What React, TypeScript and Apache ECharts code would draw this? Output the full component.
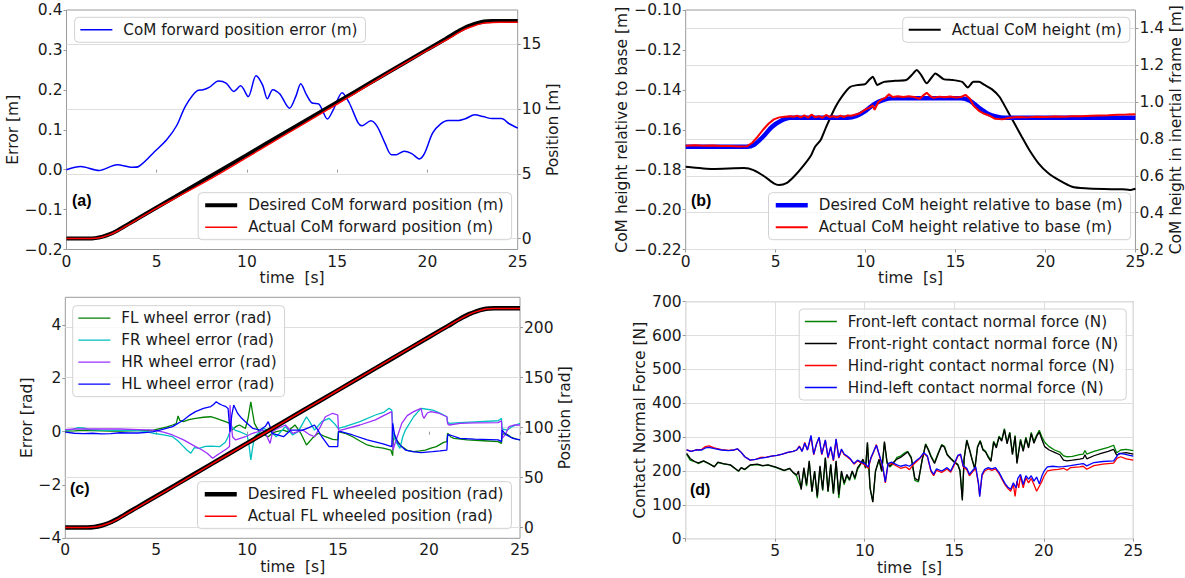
import React, { useEffect, useRef } from "react";
import * as echarts from "echarts";

// ---------- shared ----------
const timeTicks = [0, 5, 10, 15, 20, 25];

// ---------- (a) ----------
const errTicksA = [-0.2, -0.1, 0.0, 0.1, 0.2, 0.3, 0.4];
const posTicksA = [0, 5, 10, 15];
const comErrA = [[0,0.0],[0.78,0.008],[1.8,-0.002],[2.8,0.0125],[3.65,0.006],[4.0,0.008],[4.9,0.046],[5.55,0.075],[6.1,0.11],[6.6,0.16],[7.25,0.198],[7.57,0.2],[7.9,0.206],[8.42,0.222],[8.84,0.217],[9.27,0.196],[9.65,0.21],[10.07,0.183],[10.5,0.235],[10.86,0.2125],[11.13,0.1775],[11.43,0.2],[11.81,0.19],[12.36,0.154],[12.7,0.183],[12.98,0.215],[13.3,0.1875],[13.61,0.167],[13.97,0.165],[14.46,0.127],[14.78,0.15],[15.27,0.193],[15.67,0.167],[16.16,0.117],[16.37,0.11],[16.86,0.1225],[17.22,0.108],[17.64,0.067],[18.0,0.0375],[18.28,0.0375],[18.7,0.046],[19.13,0.04],[19.55,0.027],[19.83,0.04],[20.29,0.092],[20.72,0.114],[21.14,0.123],[21.67,0.123],[22.1,0.1275],[22.62,0.1375],[23.09,0.133],[23.58,0.128],[24.1,0.128],[24.53,0.115],[25.0,0.104]];
const posDesiredA = [[0,0],[1.2,0],[1.6,0.038],[2.0,0.153],[2.4,0.344],[2.8,0.612],[3.2,0.935],[3.6,1.26],[4,1.585],[5,2.4],[6,3.21],[8,4.84],[10,6.46],[12,8.09],[14,9.72],[16,11.34],[18,12.97],[20,14.6],[21,15.41],[21.8,16.07],[22.2,16.36],[22.6,16.57],[23.0,16.72],[23.3,16.78],[23.6,16.8],[25,16.8]];
const posActualA = [[0,0],[1.2,0],[1.6,0.03],[2.0,0.13],[2.4,0.31],[2.8,0.57],[3.2,0.88],[3.6,1.2],[4,1.54],[5,2.355],[6,3.11],[8,4.63],[10,6.27],[12,7.92],[14,9.56],[16,11.22],[18,12.93],[20,14.53],[21,15.29],[21.8,15.945],[22.2,16.23],[22.6,16.43],[23.0,16.59],[23.3,16.65],[23.6,16.68],[24,16.7],[25,16.7]];

// ---------- (b) ----------
const relTicksB = [-0.22, -0.2, -0.18, -0.16, -0.14, -0.12, -0.1];
const inTicksB = [0.2, 0.4, 0.6, 0.8, 1.0, 1.2, 1.4];
const heightActualB = [[0,0.649],[1.5,0.637],[3.25,0.642],[3.77,0.631],[4.4,0.595],[4.9,0.559],[5.18,0.55],[5.63,0.562],[6.05,0.599],[6.57,0.658],[6.98,0.713],[7.19,0.758],[7.5,0.794],[7.81,0.866],[8.33,0.975],[8.74,1.038],[9.15,1.083],[9.57,1.093],[9.98,1.098],[10.19,1.12],[10.4,1.138],[10.65,1.093],[11.02,1.11],[11.64,1.116],[12.26,1.12],[12.57,1.147],[12.84,1.174],[13.09,1.147],[13.4,1.102],[13.88,1.156],[14.33,1.125],[14.85,1.12],[15.37,1.11],[15.68,1.08],[15.99,1.11],[16.3,1.11],[16.61,1.093],[17.03,1.069],[17.44,1.029],[17.86,0.957],[18.27,0.885],[18.68,0.812],[19.1,0.74],[19.61,0.668],[20.13,0.617],[20.75,0.577],[21.48,0.541],[22.2,0.532],[23.24,0.528],[24.28,0.527],[24.69,0.523],[25,0.53]];
const relDesiredB = [[0,-0.1685],[3.4,-0.1685],[3.8,-0.1675],[4.3,-0.1635],[4.8,-0.1585],[5.3,-0.1555],[5.8,-0.154],[9.0,-0.154],[9.5,-0.153],[10,-0.1505],[10.5,-0.147],[11,-0.145],[11.5,-0.1442],[15.3,-0.1442],[15.8,-0.1455],[16.3,-0.149],[16.8,-0.152],[17.3,-0.1535],[17.7,-0.154],[25,-0.154]];
const relActualB = [[0,-0.168],[0.5,-0.1678],[1,-0.168],[1.5,-0.1679],[2,-0.1681],[2.5,-0.1682],[3,-0.1684],[3.4,-0.1683],[3.7,-0.1665],[4.0,-0.1635],[4.3,-0.16],[4.6,-0.157],[4.9,-0.1548],[5.2,-0.1538],[5.5,-0.1535],[5.8,-0.1532],[6.0,-0.1535],[6.2,-0.153],[6.4,-0.1538],[6.6,-0.1528],[6.8,-0.154],[7.0,-0.1524],[7.2,-0.1538],[7.4,-0.1532],[7.6,-0.154],[7.8,-0.1526],[8.0,-0.1536],[8.2,-0.1532],[8.4,-0.1538],[8.6,-0.153],[8.8,-0.1536],[9.0,-0.1528],[9.2,-0.153],[9.4,-0.1525],[9.6,-0.152],[9.8,-0.151],[10.0,-0.1498],[10.2,-0.149],[10.4,-0.1478],[10.5,-0.15],[10.7,-0.1462],[10.9,-0.1448],[11.1,-0.144],[11.3,-0.1422],[11.5,-0.1436],[11.8,-0.1432],[12.1,-0.1436],[12.4,-0.1432],[12.7,-0.1436],[13.0,-0.1445],[13.2,-0.1428],[13.4,-0.1415],[13.6,-0.1432],[13.8,-0.144],[14.1,-0.1434],[14.4,-0.1437],[14.7,-0.1433],[15.0,-0.1438],[15.3,-0.1436],[15.55,-0.1425],[15.8,-0.1445],[16.0,-0.148],[16.3,-0.1505],[16.6,-0.152],[16.9,-0.153],[17.2,-0.1545],[17.6,-0.1548],[18,-0.154],[18.5,-0.1536],[19,-0.1538],[19.5,-0.1535],[20,-0.1536],[20.5,-0.1533],[21,-0.1535],[21.5,-0.1532],[22,-0.1532],[22.5,-0.153],[23,-0.1528],[23.5,-0.1527],[24,-0.1525],[24.5,-0.1524],[25,-0.1522]];

// ---------- (c) ----------
const errTicksC = [-4, -2, 0, 2, 4];
const posTicksC = [0, 50, 100, 150, 200];
const flErrC = [[0,0.02],[0.5,0.03],[1,0.05],[1.5,0.04],[2,0.03],[2.5,0.02],[3,0.02],[3.5,0.03],[4,0.04],[4.5,0.05],[4.84,0.06],[5.26,0.12],[5.6,0.18],[5.9,0.25],[6.1,0.3],[6.2,0.59],[6.3,0.42],[6.5,0.375],[6.8,0.45],[7.16,0.5],[7.6,0.54],[8,0.56],[8.3,0.5],[8.53,0.44],[8.95,0.34],[9.05,0.3],[9.16,0.06],[9.4,0.2],[9.58,0.25],[9.9,0.12],[10.05,0.5],[10.2,1.12],[10.3,0.7],[10.4,0.31],[10.7,-0.06],[11.16,-0.19],[11.4,-0.05],[11.6,0],[12,0.06],[12.2,0],[12.63,0.25],[12.95,-0.06],[13.26,-0.5],[13.58,-0.25],[13.9,-0.06],[14.3,-0.19],[14.7,-0.29],[14.98,-0.31],[15.02,0],[15.37,-0.06],[15.8,-0.19],[16.2,-0.35],[16.6,-0.5],[17.0,-0.57],[17.47,-0.62],[17.9,-0.69],[18.0,-0.9],[18.05,-0.06],[18.2,-0.3],[18.5,-0.56],[18.8,-0.7],[19.15,-0.75],[19.5,-0.72],[19.8,-0.69],[20.1,-0.62],[20.4,-0.56],[20.8,-0.4],[20.98,-0.375],[21.02,-0.06],[21.2,-0.2],[21.37,-0.25],[22.1,-0.31],[23,-0.34],[23.8,-0.375],[23.98,-0.44],[24.02,-0.1],[24.2,-0.06],[24.5,-0.2],[24.8,-0.28],[25,-0.31]];
const frErrC = [[0,0.05],[0.4,0.08],[0.7,0.15],[1.0,0.14],[1.3,0.08],[2,0.06],[3,0.05],[4,0.04],[4.5,0.0],[4.84,-0.06],[5.4,-0.12],[5.9,-0.19],[6.2,-0.35],[6.5,-0.56],[6.7,-0.7],[6.9,-0.81],[7.1,-0.6],[7.36,-0.625],[7.7,-0.55],[8,-0.54],[8.5,-0.56],[8.8,-0.4],[8.95,-0.19],[9.16,0.19],[9.35,0.05],[9.58,0],[10,-0.125],[10.1,-0.5],[10.2,-1.06],[10.3,-0.6],[10.4,-0.19],[10.9,0.125],[11.3,0],[11.6,-0.19],[12.1,0.19],[12.5,-0.125],[12.8,0.0],[13.05,0.3],[13.26,0.56],[13.5,0.3],[13.7,0.06],[14.1,0.375],[14.5,0.5],[14.8,0.3],[15,0.125],[15.37,0.19],[16.2,0.375],[17.05,0.625],[17.5,0.72],[17.8,0.875],[17.95,0.81],[18.05,-0.19],[18.2,-0.4],[18.4,-0.625],[18.55,-0.2],[18.7,0.06],[19.15,0.56],[19.56,0.875],[19.8,0.85],[20.2,0.81],[20.6,0.7],[20.98,0.56],[21.02,0.35],[21.1,0.31],[21.7,0.34],[22.5,0.37],[23.8,0.41],[23.98,0.5],[24.02,0.1],[24.3,0.06],[24.6,0.2],[25,0.31]];
const hrErrC = [[0,0.08],[0.5,0.1],[1,0.1],[2,0.1],[3,0.1],[4,0.08],[4.5,0.07],[4.84,0.06],[5.4,-0.02],[5.9,-0.125],[6.5,-0.31],[7.16,-0.56],[7.5,-0.68],[7.8,-0.81],[8.1,-1.0],[8.3,-0.9],[8.5,-0.81],[8.84,-0.66],[9.03,-0.56],[9.06,1.0],[9.1,0.4],[9.2,-0.2],[9.37,-0.31],[9.9,-0.19],[10.3,-0.06],[10.9,0.06],[11.1,-0.2],[11.26,-0.44],[11.4,0.0],[11.6,0.09],[12.1,0.25],[12.5,-0.06],[13.05,0.06],[13.4,-0.1],[13.7,-0.19],[14.0,0.15],[14.3,0.56],[14.7,0.69],[14.98,0.625],[15.02,0.06],[15.16,0.06],[16.2,0.25],[17.05,0.44],[17.5,0.6],[17.95,0.75],[18.02,-0.69],[18.1,-0.5],[18.5,0.31],[18.8,0.6],[19.15,0.75],[19.56,0.875],[19.65,0.6],[19.72,0.5],[19.9,0.7],[20.1,0.75],[20.5,0.7],[20.98,0.56],[21.02,0.3],[21.1,0.25],[21.7,0.31],[22.5,0.33],[23.8,0.34],[23.98,0.41],[24.02,-0.25],[24.2,-0.1],[24.4,0.19],[24.7,0.25],[25,0.25]];
const hlErrC = [[0,-0.02],[0.5,-0.06],[1,-0.07],[1.5,-0.06],[2,-0.08],[2.5,-0.07],[3,-0.04],[3.5,-0.05],[4,-0.05],[4.5,-0.03],[4.84,0],[5.3,0.08],[5.9,0.19],[6.5,0.44],[6.8,0.6],[7.16,0.75],[7.6,0.87],[8,0.94],[8.15,1.02],[8.3,1.12],[8.45,1.05],[8.6,1.0],[8.8,0.95],[8.95,0.87],[9.02,0.3],[9.06,0],[9.15,0.6],[9.26,1.0],[9.47,0.69],[9.7,0.5],[9.9,0.375],[10.3,0.125],[10.7,0.06],[11.0,0.2],[11.16,0.375],[11.3,0.1],[11.37,-0.06],[12,-0.19],[12.4,0.06],[13.05,0.06],[13.4,0.15],[13.7,0.25],[13.9,0.05],[14.1,-0.19],[14.5,-0.56],[14.98,-0.56],[15.02,0],[15.16,0],[15.8,-0.125],[16.6,-0.31],[17.47,-0.46],[17.95,-0.56],[18.0,0.31],[18.1,-0.1],[18.3,-0.44],[18.7,-0.69],[19.1,-0.75],[19.56,-0.79],[20.2,-0.75],[20.6,-0.72],[20.98,-0.69],[21.02,-0.125],[21.16,-0.125],[21.7,-0.25],[22.5,-0.28],[23.8,-0.31],[23.98,-0.375],[24.02,0.06],[24.2,-0.1],[24.6,-0.25],[25,-0.31]];
const wheelDesiredC = [[0,0],[1.2,0],[1.6,0.5],[2.0,2.0],[2.4,4.5],[2.8,8.0],[3.2,12.2],[3.6,16.5],[4,20.7],[5,31.3],[6,41.9],[8,63.2],[10,84.4],[12,105.7],[14,126.9],[16,148.1],[18,169.4],[20,190.7],[21,201.3],[21.8,209.9],[22.2,213.6],[22.6,216.4],[23.0,218.4],[23.3,219.2],[23.6,219.4],[25,219.4]];
const wheelActualC = [[0,0],[1.2,0],[1.6,0.4],[2,1.8],[2.4,4.2],[2.8,7.6],[3.2,11.8],[3.6,16.1],[4,20.3],[5,30.9],[6,41.5],[8,62.9],[10,84.2],[12,105.5],[14,126.8],[16,148.0],[18,169.5],[20,190.6],[21,201.1],[21.8,209.6],[22.2,213.3],[22.6,216.1],[23,218.1],[23.3,218.9],[23.6,219.1],[25,219.2]];

// ---------- (d) ----------
const forceTicksD = [0, 100, 200, 300, 400, 500, 600, 700];
const flForceD = [[0.05,250],[0.25,232],[0.5,228],[0.7,222],[1.0,229],[1.3,221],[1.6,213],[1.8,225],[2.1,221],[2.5,217],[2.8,205],[2.95,199],[3.1,209],[3.3,204],[3.6,217],[4.0,219],[4.3,215],[4.6,217],[5.0,211],[5.3,205],[5.5,201],[5.8,207],[6.0,195],[6.2,185],[6.3,168],[6.45,150],[6.6,205],[6.75,155],[6.9,228],[7.05,138],[7.2,198],[7.35,120],[7.5,212],[7.65,142],[7.8,238],[7.95,138],[8.1,218],[8.25,132],[8.4,228],[8.55,120],[8.7,195],[8.85,160],[9.0,185],[9.15,172],[9.3,198],[9.45,175],[9.6,205],[9.75,218],[9.9,232],[10.05,208],[10.15,282],[10.3,148],[10.45,110],[10.6,198],[10.8,232],[10.95,198],[11.1,284],[11.25,222],[11.4,212],[11.6,222],[11.8,240],[12.0,244],[12.2,252],[12.4,258],[12.6,240],[12.8,172],[13.0,168],[13.2,232],[13.4,280],[13.55,265],[13.7,245],[13.9,225],[14.1,253],[14.3,278],[14.45,273],[14.6,250],[14.8,238],[15.0,228],[15.2,220],[15.32,202],[15.45,118],[15.55,238],[15.7,292],[15.85,265],[16.0,235],[16.15,208],[16.3,272],[16.45,290],[16.6,265],[16.75,258],[16.9,243],[17.05,232],[17.2,288],[17.35,272],[17.5,303],[17.65,292],[17.8,325],[17.95,284],[18.1,315],[18.25,252],[18.4,305],[18.5,226],[18.7,294],[18.85,262],[19.0,300],[19.15,272],[19.3,314],[19.45,287],[19.6,306],[19.75,320],[19.9,300],[20.05,285],[20.3,272],[20.6,262],[20.9,256],[21.1,245],[21.3,242],[21.6,243],[22.0,248],[22.2,250],[22.3,260],[22.4,250],[22.8,258],[23.2,264],[23.6,270],[23.9,276],[24.07,254],[24.3,262],[24.6,264],[25,260]];
const frForceD = [[0.05,252],[0.25,237],[0.5,228],[0.7,224],[1.0,230],[1.3,222],[1.6,212],[1.8,226],[2.1,222],[2.5,218],[2.8,206],[2.95,200],[3.1,210],[3.3,205],[3.6,218],[4.0,220],[4.3,216],[4.6,218],[5.0,212],[5.3,206],[5.5,202],[5.8,208],[6.0,196],[6.2,188],[6.3,200],[6.45,145],[6.6,210],[6.75,160],[6.9,230],[7.05,140],[7.2,200],[7.35,125],[7.5,215],[7.65,145],[7.8,240],[7.95,140],[8.1,220],[8.25,135],[8.4,230],[8.55,130],[8.7,200],[8.85,165],[9.0,190],[9.15,175],[9.3,200],[9.45,180],[9.6,210],[9.75,220],[9.9,235],[10.05,210],[10.15,285],[10.3,150],[10.45,108],[10.6,200],[10.8,235],[10.95,200],[11.1,287],[11.25,225],[11.4,215],[11.6,225],[11.8,235],[12.0,240],[12.2,248],[12.4,256],[12.6,238],[12.8,178],[13.0,172],[13.2,230],[13.4,278],[13.55,262],[13.7,242],[13.9,222],[14.1,250],[14.3,276],[14.45,270],[14.6,248],[14.8,236],[15.0,226],[15.2,218],[15.32,200],[15.45,113],[15.55,235],[15.7,290],[15.85,262],[16.0,232],[16.15,205],[16.3,270],[16.45,288],[16.6,262],[16.75,256],[16.9,240],[17.05,228],[17.2,285],[17.35,268],[17.5,300],[17.65,288],[17.8,322],[17.95,280],[18.1,312],[18.25,248],[18.4,302],[18.5,222],[18.7,290],[18.85,258],[19.0,296],[19.15,268],[19.3,310],[19.45,282],[19.6,302],[19.75,315],[19.9,292],[20.05,272],[20.3,262],[20.6,255],[20.9,248],[21.1,232],[21.3,230],[21.6,232],[22.0,235],[22.2,237],[22.3,248],[22.4,236],[22.8,245],[23.2,252],[23.6,258],[23.9,264],[24.07,247],[24.3,252],[24.6,254],[25,250]];
const hrForceD = [[0.05,262],[0.3,258],[0.6,262],[0.9,264],[1.1,272],[1.3,274],[1.6,268],[2.0,263],[2.4,261],[2.7,262],[2.9,265],[3.1,255],[3.3,242],[3.6,232],[3.9,234],[4.2,240],[4.5,241],[4.8,244],[5.1,246],[5.4,250],[5.7,255],[6.0,258],[6.2,262],[6.35,274],[6.5,258],[6.65,284],[6.8,262],[7.0,300],[7.15,248],[7.3,280],[7.45,298],[7.6,248],[7.8,290],[7.95,238],[8.1,270],[8.25,230],[8.4,293],[8.55,238],[8.7,262],[8.85,248],[9.0,243],[9.2,234],[9.4,220],[9.6,230],[9.8,224],[10.0,218],[10.2,208],[10.35,238],[10.5,256],[10.65,278],[10.8,248],[11.0,212],[11.15,165],[11.3,220],[11.5,222],[11.8,214],[12.0,208],[12.3,212],[12.5,204],[12.7,218],[12.9,228],[13.1,238],[13.3,252],[13.5,242],[13.7,198],[13.85,186],[14.0,202],[14.3,196],[14.6,206],[14.8,196],[15.0,218],[15.2,244],[15.35,248],[15.5,212],[15.7,204],[15.85,186],[16.0,196],[16.2,208],[16.35,162],[16.42,128],[16.55,186],[16.7,200],[16.9,206],[17.1,202],[17.3,206],[17.5,192],[17.7,172],[17.85,158],[18.0,148],[18.15,140],[18.3,160],[18.4,125],[18.5,170],[18.6,150],[18.7,185],[18.85,150],[19.0,180],[19.15,165],[19.3,178],[19.45,160],[19.6,140],[19.75,155],[19.9,170],[20.0,183],[20.2,200],[20.5,203],[20.8,205],[21.1,208],[21.3,202],[21.5,210],[22.0,212],[22.2,214],[22.4,205],[22.8,216],[23.3,220],[23.9,223],[24.1,238],[24.3,242],[24.6,236],[25,232]];
const hlForceD = [[0.05,262],[0.3,258],[0.6,262],[0.9,262],[1.1,268],[1.3,270],[1.6,266],[2.0,262],[2.4,260],[2.7,262],[2.9,265],[3.1,255],[3.3,242],[3.6,232],[3.9,234],[4.2,238],[4.5,240],[4.8,244],[5.1,246],[5.4,250],[5.7,255],[6.0,258],[6.2,262],[6.35,272],[6.5,258],[6.65,282],[6.8,262],[7.0,305],[7.15,250],[7.3,278],[7.45,300],[7.6,250],[7.8,292],[7.95,240],[8.1,272],[8.25,232],[8.4,295],[8.55,240],[8.7,265],[8.85,250],[9.0,245],[9.2,236],[9.4,222],[9.6,232],[9.8,226],[10.0,222],[10.2,212],[10.35,240],[10.5,258],[10.65,276],[10.8,250],[11.0,215],[11.15,168],[11.3,222],[11.5,226],[11.8,218],[12.0,214],[12.3,218],[12.5,214],[12.7,222],[12.9,232],[13.1,240],[13.3,254],[13.5,244],[13.7,202],[13.85,190],[14.0,206],[14.3,200],[14.6,210],[14.8,200],[15.0,222],[15.2,246],[15.35,250],[15.5,215],[15.7,208],[15.85,190],[16.0,200],[16.2,212],[16.35,165],[16.42,124],[16.55,190],[16.7,205],[16.9,210],[17.1,206],[17.3,210],[17.5,196],[17.7,176],[17.85,162],[18.0,152],[18.15,146],[18.3,165],[18.45,150],[18.55,178],[18.7,190],[18.85,160],[19.0,186],[19.15,176],[19.3,186],[19.45,170],[19.6,182],[19.75,162],[19.9,186],[20.0,198],[20.2,212],[20.5,214],[20.8,212],[21.1,213],[21.5,216],[22.0,220],[22.2,222],[22.4,215],[22.8,225],[23.3,228],[23.9,230],[24.2,252],[24.5,250],[24.8,246],[25,244]];

// ---------- styling ----------
const FONT = '"DejaVu Sans", sans-serif';
const FS = 15.5;
const LFS = 15.2;
const TXT = "#1a1a1a";
const GRIDC = "#dedede";
const BORDER = "#9a9a9a";
const uminus = (s: string) => s.replace("-", "\u2212");

function xAx(gridIndex: number, opts: any = {}) {
  return {
    type: "value", gridIndex, min: 0, max: 25, interval: 5,
    axisLine: { show: false },
    axisTick: { show: true, length: 3, lineStyle: { color: BORDER } },
    axisLabel: { margin: 4, fontSize: FS, color: TXT, fontFamily: FONT, customValues: timeTicks, formatter: opts.fmt || ((v: number) => String(v)) },
    splitLine: { show: !!opts.split, lineStyle: { color: GRIDC, width: 1 } },
    name: "time\u00a0\u00a0[s]", nameLocation: "middle", nameGap: 19,
    nameTextStyle: { fontSize: FS, color: TXT, fontFamily: FONT },
  };
}

function yAx(gridIndex: number, position: string, min: number, max: number, ticks: number[], dec: number, name: string, nameGap: number, split: boolean) {
  return {
    type: "value", gridIndex, position, min, max,
    axisLine: { show: false },
    axisTick: { show: true, length: 3, lineStyle: { color: BORDER }, customValues: ticks },
    axisLabel: { margin: 4, fontSize: FS, color: TXT, fontFamily: FONT, customValues: ticks, formatter: (v: number) => uminus(v.toFixed(dec)) },
    splitLine: { show: split, lineStyle: { color: GRIDC, width: 1 } },
    name, nameLocation: "middle", nameGap, nameRotate: 90,
    nameTextStyle: { fontSize: FS, color: TXT, fontFamily: FONT },
  };
}

function ln(name: string, data: number[][], xi: number, yi: number, color: string, width: number, z = 2, smooth: any = false) {
  return {
    type: "line", name, data, xAxisIndex: xi, yAxisIndex: yi, showSymbol: false, symbol: "none",
    lineStyle: { color, width }, itemStyle: { color }, z, smooth, silent: true,
    emphasis: { disabled: true },
  };
}

function lg(names: string[], left: number, top: number) {
  return {
    data: names, left, top, orient: "vertical", itemWidth: 32, itemHeight: 14, itemGap: 7,
    padding: [5, 8, 5, 5], borderColor: "#d2d2d2", borderWidth: 1, borderRadius: 4,
    backgroundColor: "rgba(255,255,255,0.8)", selectedMode: false,
    textStyle: { fontSize: LFS, color: TXT, fontFamily: FONT, padding: [0, 0, 0, 6] },
    lineStyle: { width: "inherit" },
    itemStyle: { opacity: 0 },
  };
}

function label(text: string, left: number, top: number) {
  return { type: "text", left, top, z: 100, style: { text, fontSize: 16, fontWeight: "bold", fontFamily: '"Liberation Sans", sans-serif', fill: "#000" } };
}

export default function App() {
  const ref = useRef<HTMLDivElement>(null);
  useEffect(() => {
    if (!ref.current) return;
    const chart = echarts.init(ref.current, null, { renderer: "svg" });
    const grid = (left: number, top: number, width: number, height: number) => ({ left, top, width, height, show: true, borderColor: BORDER, borderWidth: 1, backgroundColor: "transparent" });
    const option: any = {
      animation: false,
      textStyle: { fontFamily: FONT },
      grid: [
        grid(66.5, 10, 451.2, 239.5),
        grid(685.7, 10, 450, 239.5),
        grid(65.3, 297.3, 454.7, 241),
        grid(685.7, 301.7, 447.6, 237),
      ],
      xAxis: [
        xAx(0), xAx(1), xAx(2),
        xAx(3, { split: true, fmt: (v: number) => (v === 0 ? "" : String(v)) }),
      ],
      yAxis: [
        yAx(0, "left", -0.2, 0.4, errTicksA, 1, "Error [m]", 40, false),
        yAx(0, "right", -0.84, 17.64, posTicksA, 0, "Position [m]", 23, true),
        yAx(1, "left", -0.22, -0.1, relTicksB, 2, "CoM height relative to base [m]", 55, false),
        yAx(1, "right", 0.2, 1.5, inTicksB, 1, "CoM height in inertial frame [m]", 26, true),
        yAx(2, "left", -4, 5.04, errTicksC, 0, "Error [rad]", 28, false),
        yAx(2, "right", -10.8, 230.4, posTicksC, 0, "Position [rad]", 32, true),
        yAx(3, "left", 0, 700, forceTicksD, 0, "Contact Normal Force [N]", 34, true),
      ],
      legend: [
        lg(["CoM forward position error (m)"], 74.6, 17.3),
        lg(["Desired CoM forward position (m)", "Actual CoM forward position (m)"], 198.2, 192.7),
        lg(["Actual CoM height (m)"], 902.7, 17.3),
        lg(["Desired CoM height relative to base (m)", "Actual CoM height relative to base (m)"], 768.5, 192.7),
        lg(["FL wheel error (rad)", "FR wheel error (rad)", "HR wheel error (rad)", "HL wheel error (rad)"], 72.7, 305.7),
        lg(["Desired FL wheeled position (rad)", "Actual FL wheeled position (rad)"], 197.5, 481.7),
        lg(["Front-left contact normal force (N)", "Front-right contact normal force (N)", "Hind-right contact normal force (N)", "Hind-left contact normal force (N)"], 799.2, 309),
      ],
      graphic: [label("(a)", 72, 192), label("(b)", 691, 192), label("(c)", 70, 480), label("(d)", 690, 481)],
      series: [
        ln("CoM forward position error (m)", comErrA, 0, 0, "#0000ff", 1.5, 2, 0.3),
        ln("Desired CoM forward position (m)", posDesiredA, 0, 1, "#000000", 4, 3, 0.3),
        ln("Actual CoM forward position (m)", posActualA, 0, 1, "#ff0000", 1.5, 4, 0.3),

        ln("Actual CoM height (m)", heightActualB, 1, 3, "#000000", 2, 2, 0.2),
        ln("Desired CoM height relative to base (m)", relDesiredB, 1, 2, "#0000ff", 4.5, 3, 0.3),
        ln("Actual CoM height relative to base (m)", relActualB, 1, 2, "#ff0000", 2, 4),

        ln("FL wheel error (rad)", flErrC, 2, 4, "#008000", 1.3),
        ln("FR wheel error (rad)", frErrC, 2, 4, "#00bfbf", 1.3),
        ln("HR wheel error (rad)", hrErrC, 2, 4, "#9b30ff", 1.3),
        ln("HL wheel error (rad)", hlErrC, 2, 4, "#0000ff", 1.3),
        ln("Desired FL wheeled position (rad)", wheelDesiredC, 2, 5, "#000000", 4.5, 3, 0.3),
        ln("Actual FL wheeled position (rad)", wheelActualC, 2, 5, "#ff0000", 1.5, 4, 0.3),

        ln("Front-left contact normal force (N)", flForceD, 3, 6, "#008000", 1.3),
        ln("Front-right contact normal force (N)", frForceD, 3, 6, "#000000", 1.3),
        ln("Hind-right contact normal force (N)", hrForceD, 3, 6, "#ff0000", 1.3),
        ln("Hind-left contact normal force (N)", hlForceD, 3, 6, "#0000ff", 1.3),
      ],
    };
    chart.setOption(option);
    return () => chart.dispose();
  }, []);
  return <div ref={ref} style={{ position: "fixed", left: 0, top: 0, width: 1185, height: 578, background: "#fff" }} />;
}
